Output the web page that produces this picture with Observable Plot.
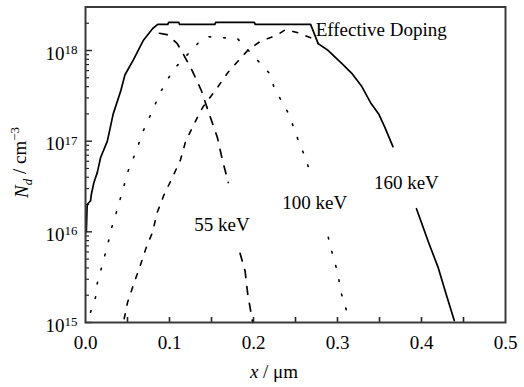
<!DOCTYPE html>
<html><head><meta charset="utf-8">
<script src="https://cdn.jsdelivr.net/npm/d3@7"></script>
<script src="https://cdn.jsdelivr.net/npm/@observablehq/plot@0.6"></script>
<style>html,body{margin:0;padding:0;background:#fff} svg{display:block}</style>
</head><body><div id="chart"></div>
<script>
// ---- data (depth x in µm, donor concentration N in cm^-3) ----
const effX = [0.001,0.002,0.006,0.007,0.010,0.014,0.018,0.026,0.033,0.042,0.047,0.057,0.069,0.080,0.086,0.098,0.099,0.111,0.112,0.154,0.155,0.201,0.202,0.268,0.277,0.289,0.305,0.317,0.329,0.340,0.349,0.356,0.366,null,0.394,0.409,0.420,0.429,0.439];
const effN = [1.0e16,2.0e16,2.2e16,2.6e16,3.5e16,4.5e16,6.6e16,1.0e17,2.0e17,3.6e17,5.4e17,7.9e17,1.3e18,1.75e18,1.94e18,1.94e18,2.04e18,2.04e18,1.94e18,1.94e18,2.04e18,2.04e18,1.94e18,1.94e18,1.19e18,1.0e18,7.2e17,5.6e17,4.0e17,2.6e17,2.0e17,1.45e17,8.7e16,null,1.8e16,7.4e15,4.0e15,2.1e15,1.05e15];

const k55X = [0.088,0.097,0.109,0.116,0.127,0.138,0.145,0.157,0.163,0.170,null,0.184,0.190,0.193,0.199];
const k55N = [1.55e18,1.5e18,1.2e18,9.3e17,6.0e17,3.6e17,2.3e17,1.1e17,6.2e16,3.5e16,null,5.8e15,3.7e15,2.1e15,1.0e15];

const k100X = [0.006,0.012,0.014,0.019,0.027,0.031,0.036,0.040,0.045,0.050,0.062,0.067,0.081,0.088,0.097,0.107,0.135,0.146,0.181,0.207,0.219,0.225,0.242,0.248,0.254,0.260,0.266,null,0.289,0.292,0.297,0.301,0.304,0.308,0.313];
const k100N = [1.3e15,1.9e15,2.7e15,4.0e15,7.6e15,1.1e16,1.55e16,2.1e16,3.0e16,4.5e16,8.5e16,1.2e17,2.3e17,3.3e17,4.7e17,6.5e17,1.23e18,1.42e18,1.35e18,7.4e17,5.6e17,3.8e17,2.0e17,1.4e17,9.8e16,7.2e16,5.0e16,null,8.7e15,6.6e15,4.6e15,3.2e15,2.2e15,1.6e15,1.2e15];

const k160X = [0.046,0.050,0.057,0.065,0.072,0.080,0.085,0.093,0.103,0.113,0.119,0.130,0.140,0.157,0.170,0.193,0.208,0.228,0.238,0.252,0.271,0.277];
const k160N = [1.1e15,1.66e15,2.6e15,4.2e15,6.6e15,1.0e16,1.6e16,2.5e16,3.9e16,6.2e16,9.8e16,1.6e17,2.4e17,3.9e17,5.8e17,1.0e18,1.26e18,1.48e18,1.7e18,1.58e18,1.35e18,1.19e18];

const labelTexts = ["Effective Doping", "160 keV", "100 keV", "55 keV"];
const labelX = [0.274, 0.382, 0.273, 0.1625];
const labelN = [1.70e18, 3.5e16, 2.11e16, 1.20e16];
const labelAnchor = ["start", "middle", "middle", "middle"];

const yMajorTicks = [1e15, 1e16, 1e17, 1e18];
const xTickLabels = [0, 0.1, 0.2, 0.3, 0.4, 0.5];
const xMinorTicks = [0.05, 0.1, 0.15, 0.2, 0.25, 0.3, 0.35, 0.4, 0.45];

// ---- build tables ----
const toRows = (xs, ns) => xs.map((x, i) => ({x, n: ns[i]}));
const effRows = toRows(effX, effN);
const k55Rows = toRows(k55X, k55N);
const k100Rows = toRows(k100X, k100N);
const k160Rows = toRows(k160X, k160N);
const labelRows = labelTexts.map((t, i) => ({t, x: labelX[i], n: labelN[i], a: labelAnchor[i]}));
const yMinorTicks = [];
for (const d of [1e15, 1e16, 1e17, 1e18]) for (let m = 2; m <= 9; m++) if (d * m <= 3.02e18) yMinorTicks.push(d * m);

const W = 524, H = 387, mL = 85, mR = 19, mT = 6.5, mB = 65;
const pw = W - mL - mR, ph = H - mT - mB;
const serif = "'Liberation Serif', 'Times New Roman', Times, serif";

const plot = Plot.plot({
  width: W, height: H,
  marginLeft: mL, marginRight: mR, marginTop: mT, marginBottom: mB,
  x: {domain: [0, 0.5]},
  y: {type: "log", domain: [1e15, 3.02e18]},
  style: {fontFamily: serif, fontSize: "19px", color: "#000", background: "#fff"},
  marks: [
    Plot.tickY(yMinorTicks, {y: d => d, insetRight: pw - 4, stroke: "#222", strokeWidth: 1.2}),
    Plot.tickY(yMajorTicks, {y: d => d, insetRight: pw - 7, stroke: "#222", strokeWidth: 1.4}),
    Plot.tickX(xMinorTicks, {x: d => d, insetTop: ph - 5, stroke: "#222", strokeWidth: 1.6}),
    Plot.line(effRows, {x: "x", y: "n", stroke: "#000", strokeWidth: 1.7}),
    Plot.line(k55Rows, {x: "x", y: "n", stroke: "#000", strokeWidth: 1.7, strokeDasharray: "8,9"}),
    Plot.line(k100Rows, {x: "x", y: "n", stroke: "#000", strokeWidth: 1.6, strokeDasharray: "1.6,13"}),
    Plot.line(k160Rows, {x: "x", y: "n", stroke: "#000", strokeWidth: 1.6, strokeDasharray: "5,9"}),
    Plot.text(labelRows.filter(d => d.a === "start"), {x: "x", y: "n", text: "t", textAnchor: "start", fill: "#000", fontSize: 19}),
    Plot.text(labelRows.filter(d => d.a === "middle"), {x: "x", y: "n", text: "t", textAnchor: "middle", fill: "#000", fontSize: 19}),
    Plot.frame({stroke: "#3a3a3a", strokeWidth: 2}),
    Plot.axisY({ticks: yMajorTicks, tickSize: 0, tickPadding: 8, dy: 3, label: null,
      tickFormat: d => "10^" + Math.round(Math.log10(d)), fontSize: 19}),
    Plot.axisX({ticks: xTickLabels, tickSize: 0, tickPadding: 13, label: null,
      tickFormat: d3.format(".1f"), fontSize: 19})
  ]
});
document.getElementById("chart").appendChild(plot);

// superscript exponents on y tick labels
const svg = d3.select(plot);
svg.selectAll('g[aria-label="y-axis tick label"] text').each(function() {
  const s = this.textContent;
  if (!s.includes("^")) return;
  const [base, exp] = s.split("^");
  this.textContent = "";
  const t = d3.select(this);
  t.append("tspan").text(base);
  t.append("tspan").attr("dy", "-0.42em").attr("font-size", "13px").text(exp);
});

// axis titles
const yl = svg.append("text")
  .attr("transform", "translate(28,162.5) rotate(-90)")
  .attr("text-anchor", "middle")
  .attr("font-family", serif).attr("font-size", "19px").attr("fill", "#000");
yl.append("tspan").attr("font-style", "italic").text("N");
yl.append("tspan").attr("font-style", "italic").attr("font-size", "13px").attr("dy", "0.3em").text("d");
yl.append("tspan").attr("dy", "-0.3em").text(" / cm");
yl.append("tspan").attr("font-size", "13px").attr("dy", "-0.55em").text("\u22123");

const xl = svg.append("text")
  .attr("x", 274).attr("y", 378)
  .attr("text-anchor", "middle")
  .attr("font-family", serif).attr("font-size", "19px").attr("fill", "#000");
xl.append("tspan").attr("font-style", "italic").text("x");
xl.append("tspan").text(" / \u03bcm");
</script>
</body></html>
